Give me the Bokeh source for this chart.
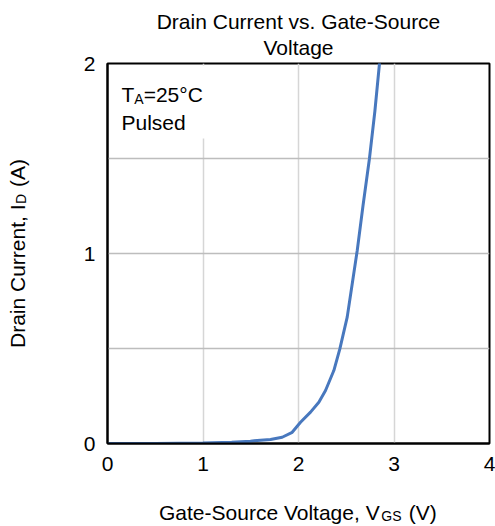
from bokeh.plotting import figure
from bokeh.models import Label, BoxAnnotation, FixedTicker
from bokeh.core.properties import value
from bokeh.embed import file_html
from bokeh.resources import INLINE
import math

# ---- data ----
vgs = [0.0, 0.5, 1.0, 1.3, 1.497, 1.567, 1.707, 1.829, 1.934, 2.021, 2.126,
       2.213, 2.283, 2.370, 2.433, 2.510, 2.552, 2.615, 2.675, 2.743, 2.80,
       2.848, 2.87]
i_d = [0.0, 0.0, 0.003, 0.007, 0.012, 0.016, 0.021, 0.033, 0.059, 0.112,
       0.165, 0.217, 0.279, 0.384, 0.498, 0.665, 0.805, 1.016, 1.25, 1.5,
       1.75, 2.0, 2.1]
x_ticks = [0, 1, 2, 3, 4]
y_ticks = [0, 1, 2]
x_grid = [1, 2, 3]
y_grid = [0.5, 1.0, 1.5]
X_RANGE = (0, 4)
Y_RANGE = (0, 2)

FONT = "Liberation Sans"
NB = "\u00a0"

# Arial / Liberation Sans advance widths (per 1000 em)
W = {'D': 722, 'r': 333, 'a': 556, 'i': 222, 'n': 556, ' ': 278, 'C': 722,
     'u': 556, 'e': 556, 't': 278, ',': 278, 'I': 278, '(': 333, ')': 333,
     'A': 667, 'G': 778, '-': 333, 'S': 667, 'o': 556, 'c': 500, 'V': 667,
     'l': 222, 'g': 556, 'T': 611, '=': 584, '2': 556, '5': 556, '°': 400,
     'P': 667, 's': 500, 'd': 556, NB: 278}


def tw(s, size):
    return sum(W.get(ch, 556) for ch in s) / 1000.0 * size


L, R, T, B = 107, 6, 63, 83
WIDTH, HEIGHT = 495, 526
FW, FH = WIDTH - L - R, HEIGHT - T - B

p = figure(width=WIDTH, height=HEIGHT, x_range=X_RANGE, y_range=Y_RANGE,
           output_backend="svg", toolbar_location=None, title=None,
           min_border_left=L, min_border_right=R, min_border_top=T,
           min_border_bottom=B)
p.background_fill_color = "white"
p.border_fill_color = "white"
p.outline_line_color = "black"
p.outline_line_width = 2

p.xaxis.ticker = FixedTicker(ticks=x_ticks)
p.yaxis.ticker = FixedTicker(ticks=y_ticks)
p.xgrid.ticker = FixedTicker(ticks=x_grid)
p.ygrid.ticker = FixedTicker(ticks=y_grid)
p.xgrid.grid_line_color = "#d6d6d6"
p.xgrid.grid_line_width = 1.5
p.ygrid.grid_line_color = "#bdbdbd"
p.ygrid.grid_line_width = 1.5

for ax in (p.xaxis, p.yaxis):
    ax.axis_line_color = "black"
    ax.axis_line_width = 2
    ax.major_tick_in = 0
    ax.major_tick_out = 0
    ax.minor_tick_in = 0
    ax.minor_tick_out = 0
    ax.major_label_text_font = FONT
    ax.major_label_text_font_size = "21px"
    ax.major_label_text_color = "black"
p.xaxis.major_label_standoff = 13
p.yaxis.major_label_standoff = 12

p.line(vgs, i_d, line_width=3, line_color="#4878be")

# white backing behind the condition note (hides the grid line there)
p.add_layout(BoxAnnotation(left=2, right=106, bottom=FH - 75, top=FH - 2,
                           left_units="screen", right_units="screen",
                           bottom_units="screen", top_units="screen",
                           fill_color="white", fill_alpha=1.0,
                           line_alpha=0.0, level="underlay"))


# condition note inside the frame, as text glyphs anchored by pixel offsets
def note(dx, dy, text, size):
    # dx, dy: pixels right of / below the frame's top-left corner
    xd = X_RANGE[0] + dx * (X_RANGE[1] - X_RANGE[0]) / FW
    yd = Y_RANGE[1] - dy * (Y_RANGE[1] - Y_RANGE[0]) / FH
    r = p.text(x=[xd], y=[yd], text=[text], text_font=value(FONT),
               text_font_size=value(f"{size}px"), text_color="black",
               text_align="left", text_baseline="alphabetic")
    r.level = "overlay"


n1, sub = 21, 14
nx = 14
note(nx, 31.3, "T", n1)
note(nx + tw("T", n1), 35.3, "A", sub)
note(nx + tw("T", n1) + tw("A", sub), 31.3, "=25°C", n1)
note(nx, 58.7, "Pulsed", n1)


def lab(x, y, text, size, side, align="left", angle=0.0):
    p.add_layout(Label(x=x, y=y, x_units="canvas", y_units="canvas",
                       text=text, text_font=FONT,
                       text_font_size=f"{size}px", text_color="black",
                       text_align=align, text_baseline="alphabetic",
                       angle=angle), side)


cxf = L + FW / 2
cyf = T + FH / 2

# title (two lines, centered on the frame)
lab(cxf, 21, "Drain Current vs. Gate-Source", 21, "above", "center")
lab(cxf, 46.5, "Voltage", 21, "above", "center")

# x axis label: main text with a gap for the subscript
s = 21
xmain = "Gate-Source Voltage, V" + NB * 5 + "(V)"
x0 = cxf - tw(xmain, s) / 2
lab(x0, 512, xmain, s, "below")
lab(x0 + tw("Gate-Source Voltage, V", s) + 0.5, 515, "GS", sub, "below")

# y axis label (rotated, reads bottom to top)
ymain = "Drain Current, I" + NB * 3 + "(A)"
y0 = cyf + tw(ymain, s) / 2
lab(17, y0, ymain, s, "left", angle=math.pi / 2)
lab(20, y0 - tw("Drain Current, I", s) - 0.5, "D", sub, "left",
    angle=math.pi / 2)

open("out.html", "w").write(file_html(p, INLINE))
